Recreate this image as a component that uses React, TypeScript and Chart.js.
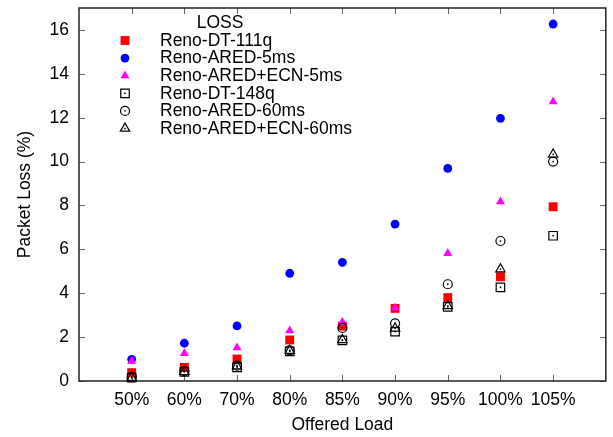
import React, { useEffect, useRef } from 'react';
import { Chart, registerables } from 'chart.js';

Chart.register(...registerables);

const categories = ['50%', '60%', '70%', '80%', '85%', '90%', '95%', '100%', '105%'];
const renoDT111q = [0.38, 0.62, 1.0, 1.87, 2.5, 3.31, 3.8, 4.75, 7.94];
const renoARED5ms = [0.99, 1.72, 2.51, 4.91, 5.41, 7.15, 9.69, 11.97, 16.27];
const renoAREDECN5ms = [0.91, 1.26, 1.52, 2.29, 2.68, 3.33, 5.82, 8.17, 12.73];
const renoDT148q = [0.15, 0.42, 0.62, 1.35, 1.85, 2.25, 3.38, 4.27, 6.62];
const renoARED60ms = [0.18, 0.45, 0.7, 1.4, 2.42, 2.63, 4.41, 6.38, 10.0];
const renoAREDECN60ms = [0.15, 0.42, 0.68, 1.38, 1.87, 2.4, 3.42, 5.1, 10.33];
const yTicks = [0, 2, 4, 6, 8, 10, 12, 14, 16];
const legendTitle = 'LOSS';

const FONT = '"Liberation Sans", Arial, Helvetica, sans-serif';
const FS = 17.5;

type Series = {
  label: string;
  values: number[];
  style: 'rect' | 'circle' | 'triangle';
  color: string;
  filled: boolean;
  radius: number;
};

const series: Series[] = [
  { label: 'Reno-DT-111q', values: renoDT111q, style: 'rect', color: '#ff0000', filled: true, radius: 6.3 },
  { label: 'Reno-ARED-5ms', values: renoARED5ms, style: 'circle', color: '#0000ff', filled: true, radius: 4.4 },
  { label: 'Reno-ARED+ECN-5ms', values: renoAREDECN5ms, style: 'triangle', color: '#ff00ff', filled: true, radius: 5.2 },
  { label: 'Reno-DT-148q', values: renoDT148q, style: 'rect', color: '#000000', filled: false, radius: 6.0 },
  { label: 'Reno-ARED-60ms', values: renoARED60ms, style: 'circle', color: '#000000', filled: false, radius: 4.5 },
  { label: 'Reno-ARED+ECN-60ms', values: renoAREDECN60ms, style: 'triangle', color: '#000000', filled: false, radius: 5.4 },
];

function drawMarker(ctx: CanvasRenderingContext2D, s: Series, x: number, y: number) {
  const r = s.radius;
  ctx.save();
  ctx.beginPath();
  if (s.style === 'rect') {
    const h = Math.SQRT1_2 * r;
    ctx.rect(x - h, y - h, 2 * h, 2 * h);
  } else if (s.style === 'circle') {
    ctx.arc(x, y, r, 0, Math.PI * 2);
  } else {
    ctx.moveTo(x, y - r);
    ctx.lineTo(x + 0.866 * r, y + 0.5 * r);
    ctx.lineTo(x - 0.866 * r, y + 0.5 * r);
    ctx.closePath();
  }
  if (s.filled) {
    ctx.fillStyle = s.color;
    ctx.fill();
  } else {
    ctx.strokeStyle = s.color;
    ctx.lineWidth = 1.2;
    ctx.stroke();
    ctx.fillStyle = s.color;
    ctx.fillRect(x - 0.75, y - 0.75, 1.5, 1.5);
  }
  ctx.restore();
}

const framePlugin = {
  id: 'gnuFrame',
  beforeDatasetsDraw(chart: any) {
    const { ctx, chartArea: a, scales } = chart;
    const xs = scales.x;
    const ys = scales.y;
    ctx.save();
    ctx.strokeStyle = '#666';
    ctx.lineWidth = 1;
    ctx.beginPath();
    for (const v of yTicks) {
      const py = Math.round(ys.getPixelForValue(v)) + 0.5;
      ctx.moveTo(a.left, py);
      ctx.lineTo(a.left + 6, py);
      ctx.moveTo(a.right, py);
      ctx.lineTo(a.right - 6, py);
    }
    categories.forEach((_, i) => {
      const px = Math.round(xs.getPixelForValue(i + 1)) + 0.5;
      ctx.moveTo(px, a.bottom);
      ctx.lineTo(px, a.bottom - 6);
      ctx.moveTo(px, a.top);
      ctx.lineTo(px, a.top + 6);
    });
    ctx.stroke();
    ctx.strokeStyle = '#222';
    ctx.lineWidth = 1.5;
    ctx.strokeRect(a.left, a.top, a.right - a.left, a.bottom - a.top);
    ctx.restore();
  },
  afterDatasetsDraw(chart: any) {
    const { ctx } = chart;
    chart.data.datasets.forEach((ds: any, di: number) => {
      if (ds._hollow) {
        const meta = chart.getDatasetMeta(di);
        ctx.save();
        ctx.fillStyle = '#000';
        meta.data.forEach((el: any) => {
          ctx.fillRect(el.x - 0.75, el.y - 0.75, 1.5, 1.5);
        });
        ctx.restore();
      }
    });
  },
  afterDraw(chart: any) {
    const { ctx } = chart;
    ctx.save();
    ctx.font = `${FS}px ${FONT}`;
    ctx.fillStyle = '#000';
    ctx.textBaseline = 'middle';
    ctx.textAlign = 'center';
    ctx.fillText(legendTitle, 220, 23);
    ctx.textAlign = 'left';
    series.forEach((s, i) => {
      const y = 40.5 + i * 17.6;
      drawMarker(ctx, s, 125, y);
      ctx.fillStyle = '#000';
      ctx.fillText(s.label, 160, y + 0.5);
    });
    ctx.restore();
  },
};

export default function App() {
  const ref = useRef<HTMLCanvasElement | null>(null);
  useEffect(() => {
    if (!ref.current) return;
    const datasets = series.map((s, i) => ({
      label: s.label,
      data: s.values.map((v, j) => ({ x: j + 1, y: v })),
      showLine: false,
      pointStyle: s.style,
      pointRadius: s.radius,
      pointHoverRadius: s.radius,
      pointBackgroundColor: s.filled ? s.color : 'rgba(0,0,0,0)',
      pointBorderColor: s.color,
      pointBorderWidth: s.filled ? 0 : 1.2,
      backgroundColor: s.color,
      borderColor: s.color,
      order: series.length - i,
      clip: false,
      _hollow: !s.filled,
    }));
    const chart = new Chart(ref.current, {
      type: 'scatter',
      data: { datasets: datasets as any },
      options: {
        animation: false,
        responsive: false,
        devicePixelRatio: 1,
        layout: { padding: { left: 0, right: 4, top: 8, bottom: 0 } },
        plugins: { legend: { display: false }, tooltip: { enabled: false } },
        scales: {
          x: {
            type: 'linear',
            min: 0,
            max: 10,
            afterBuildTicks: (scale: any) => {
              scale.ticks = categories.map((_, i) => ({ value: i + 1 }));
            },
            afterFit: (scale: any) => {
              scale.height = 56;
              scale.paddingLeft = 0;
              scale.paddingRight = 0;
            },
            grid: { display: false, drawTicks: false },
            border: { display: false },
            ticks: {
              autoSkip: false,
              maxRotation: 0,
              padding: 9,
              color: '#000',
              font: { family: FONT, size: FS },
              callback: (v: any) => categories[Number(v) - 1] ?? '',
            },
            title: {
              display: true,
              text: 'Offered Load',
              color: '#000',
              font: { family: FONT, size: FS },
              padding: { top: 0, bottom: 1 },
            },
          },
          y: {
            type: 'linear',
            min: 0,
            max: 17,
            afterBuildTicks: (scale: any) => {
              scale.ticks = yTicks.map((v) => ({ value: v }));
            },
            afterFit: (scale: any) => {
              scale.width = 79;
              scale.paddingTop = 0;
              scale.paddingBottom = 0;
            },
            grid: { display: false, drawTicks: false },
            border: { display: false },
            ticks: {
              padding: 10,
              color: '#000',
              font: { family: FONT, size: FS },
              callback: (v: any) => String(v),
            },
            title: {
              display: true,
              text: 'Packet Loss (%)',
              color: '#000',
              font: { family: FONT, size: FS },
              padding: { top: 15, bottom: 0 },
            },
          },
        },
      },
      plugins: [framePlugin],
    });
    return () => chart.destroy();
  }, []);
  return (
    <div style={{ position: 'fixed', left: 0, top: 0, width: 613, height: 437, background: '#fff' }}>
      <canvas ref={ref} width={613} height={437} style={{ display: 'block', width: 613, height: 437 }} />
    </div>
  );
}
